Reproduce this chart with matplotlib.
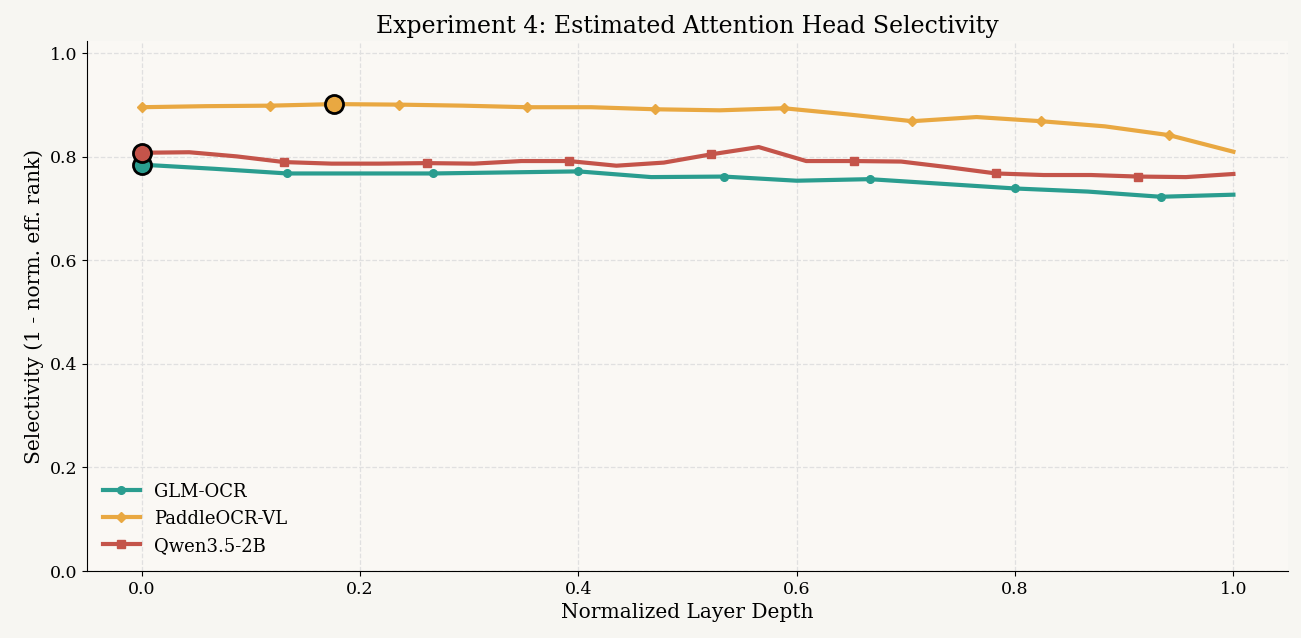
import numpy as np
import matplotlib
matplotlib.use("Agg")
import matplotlib.pyplot as plt

plt.rcParams['font.family'] = ['DejaVu Serif']

# selectivity per layer
glm_vals = [0.785, 0.777, 0.768, 0.768, 0.768, 0.770, 0.772, 0.761,
            0.762, 0.754, 0.757, 0.748, 0.739, 0.733, 0.723, 0.727]
paddle_vals = [0.896, 0.898, 0.899, 0.902, 0.901, 0.899, 0.896, 0.896, 0.892,
               0.890, 0.894, 0.882, 0.869, 0.877, 0.869, 0.859, 0.842, 0.810]
qwen_vals = [0.808, 0.809, 0.801, 0.790, 0.787, 0.787, 0.788, 0.787,
             0.792, 0.792, 0.783, 0.789, 0.805, 0.819, 0.792, 0.792,
             0.791, 0.780, 0.768, 0.765, 0.765, 0.762, 0.761, 0.767]

names = ["GLM-OCR", "PaddleOCR-VL", "Qwen3.5-2B"]
series = [glm_vals, paddle_vals, qwen_vals]
colors = ["#2a9d8f", "#e9a841", "#c4544a"]
markers = ["o", "D", "s"]
mark_every = [2, 2, 3]
highlight = [0, 3, 0]  # highlighted layer index per model

fig = plt.figure(figsize=(13.01, 6.38), dpi=100, facecolor="#f7f6f2")
ax = fig.add_axes([0.067, 0.105, 0.923, 0.83])
ax.set_facecolor("#faf8f4")

for name, vals, c, m, me, hi in zip(names, series, colors, markers, mark_every, highlight):
    depth = np.linspace(0, 1, len(vals))
    ms = 5 if m == "D" else 5.5
    ax.plot(depth, vals, color=c, lw=3, marker=m, markersize=ms,
            markevery=me, label=name)
    ax.plot(depth[hi], vals[hi], "o", color=c, markersize=13,
            markeredgecolor="black", markeredgewidth=2, zorder=5)

ax.set_xlim(-0.05, 1.05)
ax.set_ylim(0, 1.023)
ax.set_yticks([0.0, 0.2, 0.4, 0.6, 0.8, 1.0])
ax.grid(True, linestyle="--", color="#e0e0e0", lw=0.9)
ax.set_axisbelow(True)
for s in ["top", "right"]:
    ax.spines[s].set_visible(False)
ax.tick_params(labelsize=12.5)

ax.set_xlabel("Normalized Layer Depth", fontsize=14.5)
ax.set_ylabel("Selectivity (1 - norm. eff. rank)", fontsize=14.5)
ax.set_title("Experiment 4: Estimated Attention Head Selectivity", fontsize=17)
ax.legend(loc="lower left", frameon=False, fontsize=13)

fig.savefig("out.png", dpi=100, facecolor=fig.get_facecolor())
